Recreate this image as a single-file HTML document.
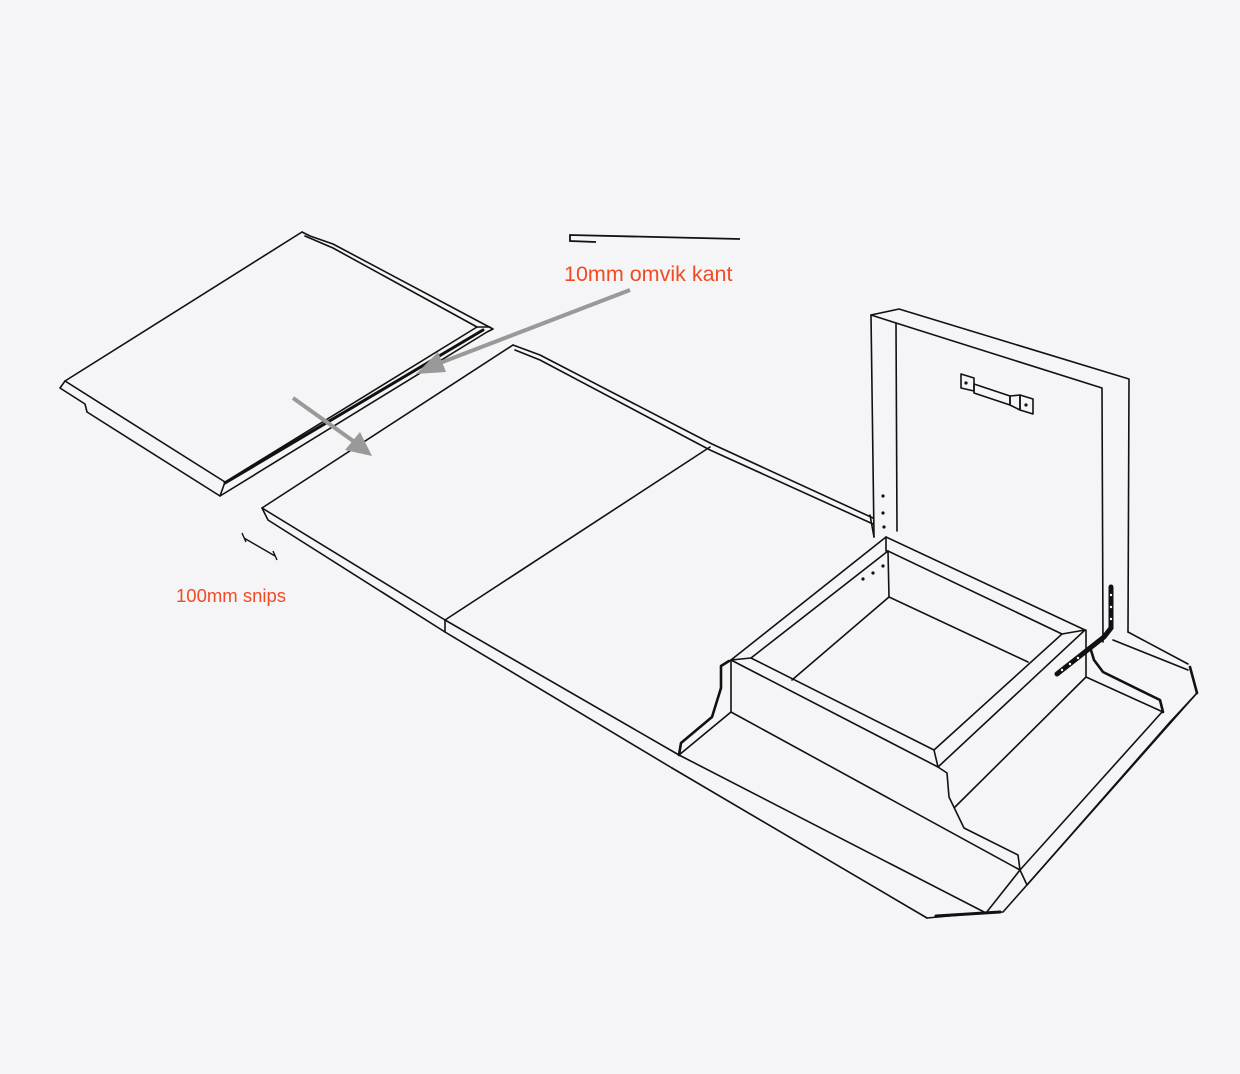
<!DOCTYPE html>
<html><head><meta charset="utf-8"><style>
html,body{margin:0;padding:0;background:#f5f4f6;}
svg{display:block}
</style></head><body>
<svg width="1240" height="1074" viewBox="0 0 1240 1074" xmlns="http://www.w3.org/2000/svg">
<rect width="1240" height="1074" fill="#f5f4f6"/>
<g fill="none" stroke="#111" stroke-width="1.6" stroke-linejoin="round" stroke-linecap="round">
<polyline points="302,232 65,381 60,388 85,404 87,412 220,496 225,482 477,327 490,327"/>
<polyline points="65,381 225,482"/>
<polyline points="302,232 310,236 333,244 493,329 487,332 220,496"/>
<polyline points="305,236 333,248 477,327"/>
<line x1="225" y1="483" x2="483" y2="330" stroke-width="3"/>
<polyline points="513,345 262,508 268,520 445,632 672,768"/>
<polyline points="262,508 445,620 679,755"/>
<polyline points="445,620 445,632"/>
<polyline points="513,345 540,355 712,444 873,518"/>
<polyline points="515,350 540,360 710,450 873,524"/>
<line x1="445" y1="620" x2="710" y2="447"/>
<polyline points="874,537 871,315 899,309 1129,379 1128,632"/>
<polyline points="871,315 896,323 897,531"/>
<polyline points="896,323 1102,388 1103,642"/>
<polyline points="886,537 1085,630"/>
<polyline points="888,551 1062,634"/>
<polygon points="961,374 974,378 974,391 961,388"/>
<polygon points="974,384 1010,396 1010,405 974,393"/>
<polygon points="1010,396 1020,395 1020,410 1010,405"/>
<polygon points="1020,395 1033,399 1033,414 1020,410"/>
<polyline points="731,660 886,537 886,551 888,551"/>
<polyline points="751,658 888,551 889,597"/>
<polyline points="731,660 751,658 934,750 938,767"/>
<polyline points="731,660 938,767"/>
<polyline points="934,750 1062,634 1085,630 938,767"/>
<polyline points="889,597 792,680"/>
<polyline points="889,597 1028,662"/>
<polyline points="731,660 731,712"/>
<polyline points="938,767 947,773 949,797 964,828 1018,855 1020,870"/>
<polyline points="729,661 721,666 721,688 712,717 681,743 679,755" stroke-width="2.6"/>
<polyline points="731,712 679,755"/>
<polyline points="731,712 1020,870"/>
<polyline points="679,755 986,913"/>
<polyline points="672,768 927,918"/>
<polyline points="927,918 949,916 986,913 1003,912 1197,693 1190,667"/>
<line x1="936" y1="916" x2="1000" y2="912" stroke-width="3"/>
<polyline points="1020,870 986,913"/>
<polyline points="1020,870 1027,885 1170,722 1197,693"/>
<polyline points="1020,870 1162,712"/>
<polyline points="1090,647 1094,660 1103,672 1160,700 1163,712" stroke-width="2.6"/>
<polyline points="1190,667 1197,693" stroke-width="2.6"/>
<polyline points="1086,630 1086,677 1163,712"/>
<polyline points="1086,677 955,807"/>
<polyline points="1128,632 1188,664"/>
<polyline points="1113,640 1188,670"/>
<polyline points="870,515 874,537"/>
</g>
<g stroke="#111" stroke-width="5" fill="none" stroke-linecap="round">
<polyline points="1111,587 1111,628 1104,637 1057,674"/>
</g>
<g fill="#fff">
<circle cx="1111" cy="595" r="1.2"/><circle cx="1111" cy="607" r="1.2"/><circle cx="1111" cy="619" r="1.2"/>
<circle cx="1062" cy="670" r="1.2"/><circle cx="1070" cy="664" r="1.2"/><circle cx="1078" cy="658" r="1.2"/>
</g>
<g fill="#111">
<circle cx="883" cy="496" r="1.6"/><circle cx="883" cy="513" r="1.6"/><circle cx="884" cy="527" r="1.6"/>
<circle cx="863" cy="579" r="1.6"/><circle cx="873" cy="573" r="1.6"/><circle cx="883" cy="566" r="1.6"/>
<circle cx="966" cy="383" r="1.6"/><circle cx="1026" cy="405" r="1.6"/>
</g>
<g fill="none" stroke="#111" stroke-width="1.8">
<polyline points="596,242 570,241 570,235 740,239"/>
</g>
<g stroke="#111" stroke-width="1.4">
<line x1="244" y1="538" x2="275" y2="556"/>
<line x1="242" y1="533" x2="246" y2="542"/>
<line x1="273" y1="551" x2="277" y2="560"/>
</g>
<g stroke="#999" stroke-width="4" fill="#999">
<line x1="630" y1="290" x2="432" y2="366"/>
<polygon points="416,374 438,352 446,372" stroke="none"/>
<line x1="293" y1="398" x2="356" y2="443"/>
<polygon points="372,456 345,450 360,432" stroke="none"/>
</g>
<text x="564" y="281" font-family="Liberation Sans, sans-serif" font-size="21.5" fill="#f04b23">10mm omvik kant</text>
<text x="176" y="602" font-family="Liberation Sans, sans-serif" font-size="18.5" fill="#f04b23">100mm snips</text>
</svg>
</body></html>
